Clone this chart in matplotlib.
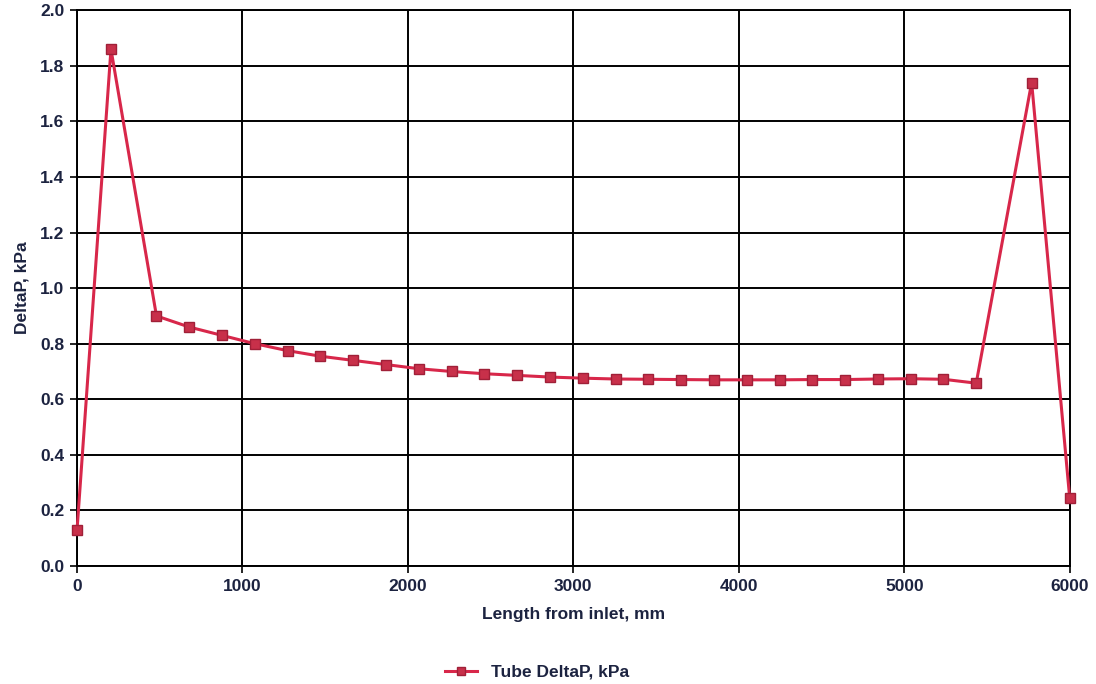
import numpy as np
import matplotlib
matplotlib.use('Agg')
import matplotlib.pyplot as plt

plt.rcParams['font.family'] = ['Liberation Sans', 'DejaVu Sans']

# ---- data ----
length_mm = [0, 205, 480, 678, 876, 1075, 1273, 1471, 1669, 1867, 2066, 2264,
             2462, 2660, 2858, 3057, 3255, 3453, 3651, 3849, 4048, 4246, 4444,
             4642, 4840, 5039, 5237, 5435, 5770, 6000]
tube_dp = [0.13, 1.86, 0.90, 0.86, 0.83, 0.80, 0.775, 0.755, 0.74, 0.725, 0.71,
           0.70, 0.692, 0.686, 0.68, 0.676, 0.673, 0.672, 0.671, 0.670, 0.670,
           0.670, 0.671, 0.671, 0.673, 0.674, 0.672, 0.658, 1.74, 0.245]

x_ticks = [0, 1000, 2000, 3000, 4000, 5000, 6000]
y_ticks = [0.0, 0.2, 0.4, 0.6, 0.8, 1.0, 1.2, 1.4, 1.6, 1.8, 2.0]

text_col = '#1c2340'
line_col = '#d8274a'

fig = plt.figure(figsize=(10.96, 6.84), dpi=100, facecolor='white')
ax = fig.add_axes([0.0703, 0.1725, 0.9057, 0.8125])

ax.plot(length_mm, tube_dp, color=line_col, lw=2.2, marker='s', ms=7,
        mfc='#c8304a', mec='#a02038', mew=1.0, label='Tube DeltaP, kPa',
        zorder=3, clip_on=False)

ax.set_xlim(0, 6000)
ax.set_ylim(0, 2.0)
ax.set_xticks(x_ticks)
ax.set_yticks(y_ticks)
ax.set_yticklabels([f'{v:.1f}' for v in y_ticks])
ax.grid(True, color='black', lw=1.4)
ax.set_axisbelow(True)
for s in ax.spines.values():
    s.set_color('black')
    s.set_linewidth(1.4)
ax.tick_params(axis='both', direction='out', length=5, width=1.2, colors='black',
               labelcolor=text_col, labelsize=12.5, pad=4)
for lab in ax.get_xticklabels() + ax.get_yticklabels():
    lab.set_fontweight('bold')

ax.set_xlabel('Length from inlet, mm', fontsize=12.5, fontweight='bold',
              color=text_col, labelpad=10)
ax.set_ylabel('DeltaP, kPa', fontsize=12.5, fontweight='bold', color=text_col,
              labelpad=8)

leg = fig.legend(loc='center', bbox_to_anchor=(0.49, 0.017), frameon=False,
                 fontsize=12.5, handlelength=1.8, markerscale=0.9)
for t in leg.get_texts():
    t.set_fontweight('bold')
    t.set_color(text_col)

plt.savefig('out.png', dpi=100, facecolor='white')
